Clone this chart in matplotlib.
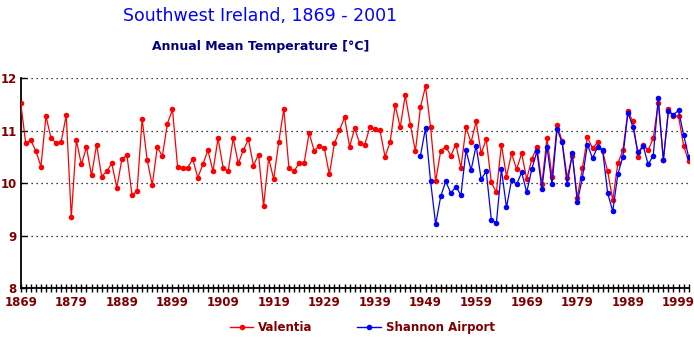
import numpy as np
import matplotlib.pyplot as plt
from matplotlib.lines import Line2D
from matplotlib.ticker import MultipleLocator

# annual mean temperature, deg C
years = np.arange(1869, 2002)
valentia = [
    11.54, 10.76, 10.82, 10.62, 10.32, 11.28, 10.86, 10.77, 10.79, 11.30,   # 1869-1878
    9.35, 10.82, 10.36, 10.69, 10.15, 10.74, 10.13, 10.23, 10.38, 9.92,     # 1879-1888
    10.46, 10.54, 9.78, 9.85, 11.23, 10.44, 9.97, 10.69, 10.52, 11.14,      # 1889-1898
    11.41, 10.32, 10.30, 10.30, 10.46, 10.11, 10.36, 10.63, 10.23, 10.86,   # 1899-1908
    10.30, 10.23, 10.86, 10.38, 10.63, 10.84, 10.34, 10.55, 9.57, 10.48,    # 1909-1918
    10.08, 10.79, 11.42, 10.30, 10.23, 10.38, 10.38, 10.96, 10.62, 10.72,   # 1919-1928
    10.67, 10.17, 10.76, 11.01, 11.26, 10.70, 11.05, 10.76, 10.74, 11.07,   # 1929-1938
    11.03, 11.01, 10.51, 10.78, 11.49, 11.07, 11.68, 11.12, 10.61, 11.45,   # 1939-1948
    11.85, 11.07, 10.04, 10.62, 10.70, 10.53, 10.74, 10.30, 11.07, 10.78,   # 1949-1958
    11.18, 10.57, 10.84, 10.02, 9.83, 10.74, 10.13, 10.57, 10.27, 10.57,    # 1959-1968
    10.08, 10.46, 10.70, 9.99, 10.86, 10.13, 11.12, 10.80, 10.11, 10.53,    # 1969-1978
    9.73, 10.29, 10.88, 10.67, 10.78, 10.61, 10.23, 9.68, 10.38, 10.63,     # 1979-1988
    11.37, 11.18, 10.51, 10.74, 10.63, 10.86, 11.54, 10.45, 11.41, 11.28,   # 1989-1998
    11.28, 10.72, 10.42,                                                    # 1999-2001
]

shannon_years = np.arange(1948, 2002)
shannon = [
    10.53, 11.05, 10.04, 9.22, 9.75, 10.04, 9.81, 9.94, 9.77, 10.63,        # 1948-1957
    10.25, 10.72, 10.08, 10.23, 9.31, 9.24, 10.27, 9.54, 10.06, 9.98,       # 1958-1967
    10.21, 9.83, 10.27, 10.61, 9.90, 10.70, 9.98, 11.03, 10.78, 9.98,       # 1968-1977
    10.57, 9.64, 10.11, 10.74, 10.48, 10.69, 10.63, 9.81, 9.47, 10.17,      # 1978-1987
    10.51, 11.35, 11.07, 10.59, 10.72, 10.36, 10.53, 11.62, 10.44, 11.37,   # 1988-1997
    11.31, 11.39, 10.93, 10.50,                                             # 1998-2001
]

label_col = '#800000'

fig = plt.figure(figsize=(6.94, 3.39), dpi=100)
ax = fig.add_axes([0.0298, 0.1496, 0.9625, 0.619])

ax.plot(years, valentia, color='#ff0000', lw=0.9, marker='o', ms=4,
        markeredgewidth=0, zorder=3)
ax.plot(shannon_years, shannon, color='#0000ff', lw=0.9, marker='o', ms=4,
        markeredgewidth=0, zorder=4)

ax.set_xlim(1869, 2001)
ax.set_ylim(8, 12)
ax.set_xticks(np.arange(1869, 2000, 10))
ax.xaxis.set_minor_locator(MultipleLocator(1))
ax.set_yticks([8, 9, 10, 11, 12])

for y in [9, 10, 11, 12]:
    ax.axhline(y, color='black', lw=0.9, ls=(0, (1, 3)), zorder=1)

for s in ['top', 'right']:
    ax.spines[s].set_visible(False)
for s in ['left', 'bottom']:
    ax.spines[s].set_linewidth(1.3)

ax.tick_params(axis='x', which='both', direction='inout', length=6, width=1,
               labelsize=8.5, labelcolor=label_col, pad=2.5)
ax.tick_params(axis='y', direction='in', length=4, width=1,
               labelsize=8.5, labelcolor=label_col, pad=3)
for lab in ax.get_xticklabels() + ax.get_yticklabels():
    lab.set_fontweight('bold')

fig.text(0.375, 0.953, 'Southwest Ireland, 1869 - 2001', color='#0000ff',
         fontsize=12.5, ha='center', va='center')
fig.text(0.375, 0.864, 'Annual Mean Temperature [°C]', color='#000080',
         fontsize=9, fontweight='bold', ha='center', va='center')

handles = [
    Line2D([], [], color='#ff0000', lw=1, marker='o', ms=4, markeredgewidth=0),
    Line2D([], [], color='#0000ff', lw=1, marker='o', ms=4, markeredgewidth=0),
]
leg = fig.legend(handles, ['Valentia', 'Shannon Airport'], loc='center',
                 bbox_to_anchor=(0.522, 0.033), ncol=2, frameon=False,
                 handlelength=2.0, handletextpad=0.4, columnspacing=3.8,
                 prop={'size': 8.5, 'weight': 'bold'})
for t in leg.get_texts():
    t.set_color(label_col)

fig.savefig('out.png', dpi=100, facecolor='white')
